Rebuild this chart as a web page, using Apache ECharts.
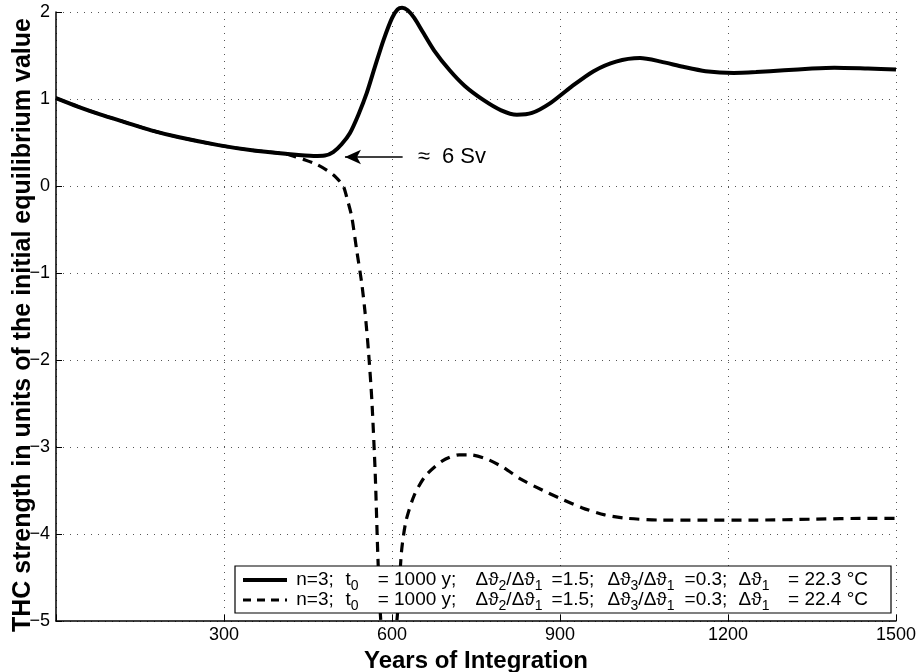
<!DOCTYPE html>
<html>
<head>
<meta charset="utf-8">
<script src="https://cdn.jsdelivr.net/npm/echarts@6/dist/echarts.min.js"></script>
<style>
  html, body { margin: 0; padding: 0; background: #fff; }
  #chart { width: 923px; height: 672px; }
</style>
</head>
<body>
<div id="chart"></div>
<script>
// THC strength (relative to initial equilibrium) for two runs, Δϑ1 = 22.3 °C and 22.4 °C
const solidYears = [0, 40, 80, 120, 170, 220, 290, 350, 410, 460, 480, 495, 510, 525, 540, 555, 570, 585, 600, 610, 618, 628, 640, 655, 675, 703, 730, 763, 795, 823, 850, 882, 920, 960, 1000, 1043, 1080, 1120, 1160, 1210, 1250, 1300, 1350, 1390, 1450, 1500];
const solidValues = [1.01, 0.91, 0.82, 0.74, 0.64, 0.56, 0.47, 0.41, 0.37, 0.345, 0.35, 0.39, 0.48, 0.61, 0.82, 1.07, 1.38, 1.68, 1.93, 2.03, 2.05, 2.02, 1.93, 1.77, 1.56, 1.33, 1.15, 0.99, 0.87, 0.82, 0.84, 0.95, 1.14, 1.32, 1.43, 1.47, 1.43, 1.37, 1.32, 1.30, 1.31, 1.33, 1.35, 1.36, 1.35, 1.34];

const dashedYears = [0, 40, 80, 120, 170, 220, 290, 350, 410, 430, 445, 465, 484, 500, 513, 520, 528, 537, 546, 552, 558, 564, 570, 575, 580, 590, 600, 610, 617, 625, 640, 660, 690, 720, 740, 770, 800, 830, 870, 900, 940, 980, 1020, 1080, 1150, 1250, 1350, 1450, 1500];
const dashedValues = [1.01, 0.91, 0.82, 0.74, 0.64, 0.56, 0.47, 0.41, 0.37, 0.33, 0.30, 0.25, 0.18, 0.10, 0.0, -0.15, -0.35, -0.74, -1.12, -1.46, -1.9, -2.46, -3.3, -4.3, -5.0, -5.6, -5.5, -4.9, -4.2, -3.85, -3.55, -3.33, -3.16, -3.09, -3.09, -3.14, -3.24, -3.37, -3.5, -3.59, -3.7, -3.78, -3.82, -3.84, -3.84, -3.84, -3.83, -3.82, -3.82];

const xTicks = [0, 300, 600, 900, 1200, 1500];
const yTicks = [-5, -4, -3, -2, -1, 0, 1, 2];

const xTitle = 'Years of Integration';
const yTitle = 'THC strength in units of the initial equilibrium value';

// annotation: arrow pointing at the onset of the recovery (≈ 6 Sv)
const arrowFrom = [619, 0.333];
const arrowTo = [516, 0.333];
const arrowText = '≈  6 Sv';

// legend entries: line style and Δϑ1 of each run
const legendEntries = [
  { dash: false, dt1: '22.3' },
  { dash: true, dt1: '22.4' }
];

const FONT = '"Liberation Sans", Arial, Helvetica, sans-serif';

const pairs = (xs, ys) => xs.map((x, i) => [x, ys[i]]);

const chart = echarts.init(document.getElementById('chart'), null, { renderer: 'canvas' });

const gridLine = { show: true, lineStyle: { color: '#555', width: 1, type: [1, 6] } };

const option = {
  animation: false,
  backgroundColor: '#fff',
  grid: { left: 56, right: 27, top: 12, bottom: 51, containLabel: false, outerBoundsMode: 'none' },
  xAxis: {
    type: 'value', min: xTicks[0], max: xTicks[xTicks.length - 1], interval: xTicks[1] - xTicks[0],
    name: xTitle, nameLocation: 'middle', nameGap: 27,
    nameTextStyle: { fontFamily: FONT, fontSize: 24, fontWeight: 'bold', color: '#000' },
    axisLine: { show: true, onZero: false, lineStyle: { color: '#000', width: 1.5 } },
    axisTick: { show: true, inside: true, length: 6, lineStyle: { color: '#000', width: 1 } },
    axisLabel: {
      fontFamily: FONT, fontSize: 18, color: '#000', margin: 5,
      formatter: v => (v === 0 ? '' : String(v))
    },
    splitLine: gridLine
  },
  yAxis: {
    type: 'value', min: yTicks[0], max: yTicks[yTicks.length - 1], interval: 1,
    axisLine: { show: true, onZero: false, lineStyle: { color: '#000', width: 1.5 } },
    axisTick: { show: true, inside: true, length: 6, lineStyle: { color: '#000', width: 1 } },
    axisLabel: {
      fontFamily: FONT, fontSize: 18, color: '#000', margin: 6,
      formatter: v => String(v).replace('-', '\u2212')
    },
    splitLine: gridLine
  },
  series: [
    {
      name: 'solid', type: 'line', data: pairs(solidYears, solidValues),
      showSymbol: false, smooth: 0.25, clip: false, z: 3,
      lineStyle: { color: '#000', width: 4 },
      markLine: {
        silent: true, symbol: ['none', 'arrow'], symbolSize: [11, 16],
        label: { show: false },
        lineStyle: { color: '#000', width: 1.5, type: 'solid' },
        data: [[{ coord: arrowFrom }, { coord: arrowTo }]]
      }
    },
    {
      name: 'dashed', type: 'line', data: pairs(dashedYears, dashedValues),
      showSymbol: false, smooth: 0.25, clip: true, z: 2,
      lineStyle: { color: '#000', width: 3.2, type: [10, 7] }
    }
  ]
};

chart.setOption(option);

const graphics = [];

// vertical axis title
graphics.push({
  type: 'text', x: 23, y: 325, rotation: Math.PI / 2, z: 20,
  style: {
    text: yTitle, fontFamily: FONT, fontSize: 25, fontWeight: 'bold', fill: '#000',
    align: 'center', verticalAlign: 'middle'
  }
});

// annotation text next to the arrow
const tPos = chart.convertToPixel({ gridIndex: 0 }, arrowFrom);
graphics.push({
  type: 'text', x: tPos[0] + 15, y: tPos[1], z: 20,
  style: { text: arrowText, fontFamily: FONT, fontSize: 22, fill: '#000', verticalAlign: 'middle' }
});

// legend box with two entries
const lg = { x: 235, y: 566, w: 656, h: 47, row0: 14, rowStep: 20 };
graphics.push({
  type: 'rect', z: 20,
  shape: { x: lg.x, y: lg.y, width: lg.w, height: lg.h },
  style: { fill: '#fff', stroke: '#000', lineWidth: 1.2 }
});

const richStyles = {
  m: { fontFamily: FONT, fontSize: 19, lineHeight: 26, verticalAlign: 'middle', fill: '#000' },
  s: { fontFamily: FONT, fontSize: 14, lineHeight: 27, verticalAlign: 'bottom', fill: '#000' }
};
// pieces of one legend label, each centred at an offset from the box's left edge
function legendPieces(dt1) {
  return [
    [80, '{m|n=3;}'],
    [117, '{m|t}{s|0}'],
    [182, '{m|= 1000 y;}'],
    [274, '{m|Δϑ}{s|2}{m|/Δϑ}{s|1}'],
    [338, '{m|=1.5;}'],
    [406, '{m|Δϑ}{s|3}{m|/Δϑ}{s|1}'],
    [471, '{m|=0.3;}'],
    [519, '{m|Δϑ}{s|1}'],
    [593, '{m|= ' + dt1 + ' °C}']
  ];
}

legendEntries.forEach((item, i) => {
  const cy = lg.y + lg.row0 + i * lg.rowStep;
  graphics.push({
    type: 'line', z: 21,
    shape: { x1: lg.x + 8, y1: cy, x2: lg.x + 52, y2: cy },
    style: { stroke: '#000', lineWidth: item.dash ? 3.2 : 4, lineDash: item.dash ? [8, 6] : null }
  });
  legendPieces(item.dt1).forEach(([dx, txt]) => {
    graphics.push({
      type: 'text', z: 21, x: lg.x + dx, y: cy,
      style: { text: txt, rich: richStyles, align: 'center', verticalAlign: 'middle', fill: '#000', fontFamily: FONT }
    });
  });
});

chart.setOption({ graphic: graphics });
</script>
</body>
</html>
